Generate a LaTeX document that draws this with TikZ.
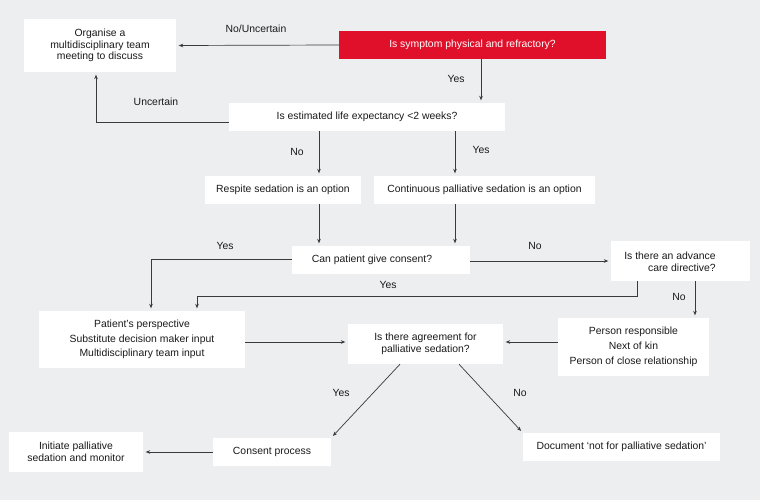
\documentclass[tikz,border=0pt]{standalone}
\usepackage{fontspec}
\setmainfont{Liberation Sans}
\usetikzlibrary{arrows.meta}
\definecolor{bg}{HTML}{EDEEEF}
\definecolor{redbox}{HTML}{E0102A}
\definecolor{ln}{HTML}{3A3A3A}
\definecolor{tx}{HTML}{1A1A1A}
\begin{document}
\begin{tikzpicture}[x=1pt,y=-1pt,
  box/.style={fill=white, inner sep=0pt, align=center, text=tx,
    font=\fontsize{10.4}{11.8}\selectfont},
  lbl/.style={inner sep=0pt, text=tx, font=\fontsize{10.4}{11.8}\selectfont},
  arr/.style={draw=ln, line width=0.7pt, -{Stealth[length=4.5pt,width=3.6pt]}, shorten >=2.5pt}]
\fill[bg] (0,0) rectangle (760,500);
\useasboundingbox (0,0) rectangle (760,500);
% boxes
\node[box, minimum width=152pt, minimum height=53pt] (org) at (100,45.5) {Organise a\\multidisciplinary team\\meeting to discuss};
\node[box, fill=redbox, text=white, minimum width=267pt, minimum height=28pt] (red) at (472.5,45) {Is symptom physical and refractory?};
\node[box, minimum width=276pt, minimum height=28pt] (life) at (367,117) {Is estimated life expectancy <2 weeks?};
\node[box, minimum width=156pt, minimum height=28pt] (resp) at (283,190) {Respite sedation is an option};
\node[box, minimum width=221pt, minimum height=28pt] (cont) at (484.5,190) {Continuous palliative sedation is an option};
\node[box, minimum width=178pt, minimum height=28pt] (can) at (381,260) {};
\node[lbl] (cant) at (372,260) {Can patient give consent?};
\node[box, minimum width=139pt, minimum height=40pt] (adv) at (680.5,261) {};
\node[lbl, align=right, font=\fontsize{10.4}{11.5}\selectfont] (advt) at (670,262) {Is there an advance\\care directive?};
\node[box, minimum width=206pt, minimum height=57pt, font=\fontsize{10.4}{14.5}\selectfont] (pat) at (142,339.5) {Patient’s perspective\\Substitute decision maker input\\Multidisciplinary team input};
\node[box, minimum width=155pt, minimum height=40pt, font=\fontsize{10.4}{12}\selectfont] (agr) at (425.5,344) {Is there agreement for\\palliative sedation?};
\node[box, minimum width=151pt, minimum height=58pt, font=\fontsize{10.4}{15}\selectfont] (pers) at (633.5,347) {Person responsible\\Next of kin\\Person of close relationship};
\node[box, minimum width=134pt, minimum height=40pt, font=\fontsize{10.4}{12}\selectfont] (init) at (76,452) {Initiate palliative\\sedation and monitor};
\node[box, minimum width=118pt, minimum height=28pt] (cons) at (272,452) {Consent process};
\node[box, minimum width=197pt, minimum height=28pt] (doc) at (621.5,447) {Document ‘not for palliative sedation’};
% connectors
\draw[arr] (red.west) -- (org.east);
\draw[arr] (red.south -| 481,0) -- (life.north -| 481,0);
\draw[arr] (life.west |- 0,122) -- (96,122) -- (org.south -| 96,0);
\draw[arr] (life.south -| 319,0) -- (resp.north -| 319,0);
\draw[arr] (life.south -| 455,0) -- (cont.north -| 455,0);
\draw[arr] (resp.south -| 319,0) -- (can.north -| 319,0);
\draw[arr] (cont.south -| 455,0) -- (can.north -| 455,0);
\draw[arr] (can.east |- 0,261) -- (adv.west |- 0,261);
\draw[arr] (can.west |- 0,259) -- (151,259) -- (pat.north -| 151,0);
\draw[arr] (adv.south -| 637,0) -- (637,296) -- (197,296) -- (pat.north -| 197,0);
\draw[arr] (adv.south -| 695,0) -- (pers.north -| 695,0);
\draw[arr] (pat.east |- 0,342) -- (agr.west |- 0,342);
\draw[arr] (pers.west |- 0,342) -- (agr.east |- 0,342);
\draw[arr] (agr.south -| 400,0) -- (cons.north east);
\draw[arr] (agr.south -| 459,0) -- (doc.north west);
\draw[arr] (cons.west) -- (init.east);
% labels
\node[lbl] (l1) at (256,29) {No/Uncertain};
\node[lbl] (l2) at (456,79) {Yes};
\node[lbl] (l3) at (156,102) {Uncertain};
\node[lbl] (l4) at (297,152) {No};
\node[lbl] (l5) at (481,150) {Yes};
\node[lbl] (l6) at (225,246) {Yes};
\node[lbl] (l7) at (535,246) {No};
\node[lbl] (l8) at (388,285) {Yes};
\node[lbl] (l9) at (679,297) {No};
\node[lbl] (l10) at (341,393) {Yes};
\node[lbl] (l11) at (520,393) {No};
\end{tikzpicture}
\end{document}
